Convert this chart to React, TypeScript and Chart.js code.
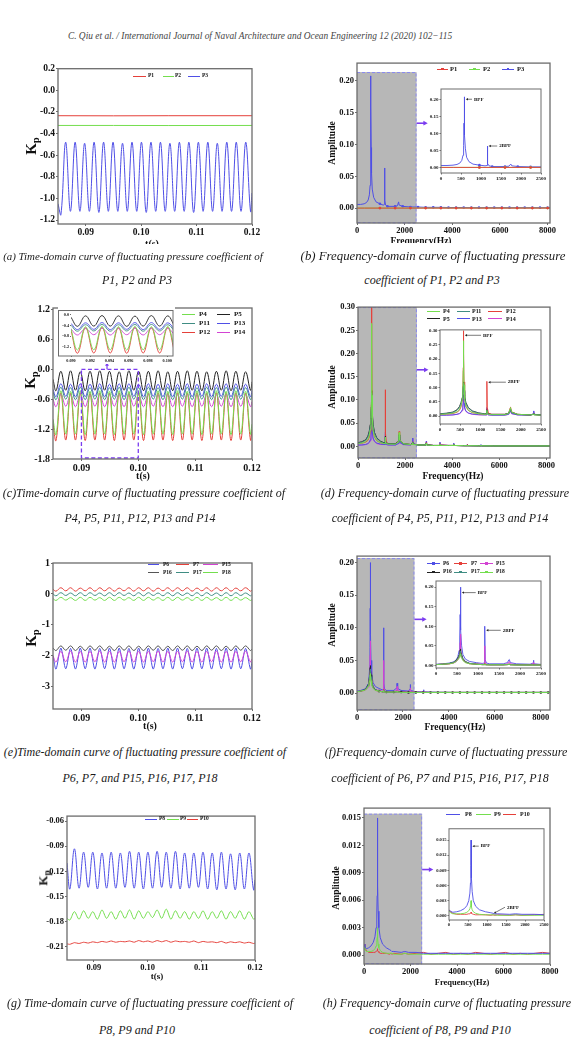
import { useEffect, useRef } from "react";
import { Chart, registerables } from "chart.js";

Chart.register(...registerables);

const SERIF = "'Liberation Serif', 'DejaVu Serif', serif";

// ---------------- time-domain data ----------------
const tGrid = [
  0.085, 0.08553, 0.08638, 0.08724, 0.08809, 0.08895, 0.0898, 0.09066, 0.09151, 0.09237, 0.09322,
  0.09408, 0.09493, 0.09579, 0.09664, 0.0975, 0.09835, 0.09921, 0.10006, 0.10092, 0.10177,
  0.10263, 0.10348, 0.10434, 0.10519, 0.10605, 0.1069, 0.10776, 0.10861, 0.10947, 0.11032,
  0.11118, 0.11203, 0.11289, 0.11374, 0.1146, 0.11545, 0.11631, 0.11716, 0.11802, 0.11887,
  0.11973, 0.12,
];
const tFlat = [0.085, 0.095, 0.105, 0.12];
const tTicks = [0.09, 0.1, 0.11, 0.12];

// (a)
const kpP1 = [-0.235, -0.236, -0.235, -0.235];
const kpP2 = [-0.325, -0.325, -0.326, -0.325];
const kpP3 = [
  -1.05,
  -1.15, -0.48, -1.12, -0.48, -1.12, -0.49, -1.12, -0.48, -1.13, -0.48,
  -1.12, -0.48, -1.12, -0.49, -1.12, -0.48, -1.12, -0.48, -1.13, -0.48,
  -1.12, -0.48, -1.12, -0.49, -1.12, -0.48, -1.12, -0.48, -1.13, -0.48,
  -1.12, -0.48, -1.12, -0.49, -1.12, -0.48, -1.12, -0.48, -1.12, -0.48,
  -1.12, -0.95,
];
const kpTicksA = [0.2, 0.0, -0.2, -0.4, -0.6, -0.8, -1.0, -1.2];

// (c)
const kpP4 = [
  -1.0,
  -1.31, -0.43, -1.3, -0.44, -1.3, -0.43, -1.31, -0.44, -1.3, -0.43,
  -1.3, -0.44, -1.31, -0.43, -1.3, -0.44, -1.3, -0.43, -1.31, -0.44,
  -1.3, -0.43, -1.3, -0.44, -1.31, -0.43, -1.3, -0.44, -1.3, -0.43,
  -1.31, -0.44, -1.3, -0.43, -1.3, -0.44, -1.31, -0.43, -1.3, -0.44,
  -1.3, -1.1,
];
const kpP5 = [
  -0.2,
  -0.43, -0.04, -0.42, -0.03, -0.42, -0.05, -0.43, -0.04, -0.42, -0.03,
  -0.42, -0.04, -0.43, -0.05, -0.42, -0.03, -0.42, -0.04, -0.43, -0.04,
  -0.42, -0.03, -0.42, -0.05, -0.43, -0.04, -0.42, -0.03, -0.42, -0.04,
  -0.43, -0.05, -0.42, -0.04, -0.42, -0.03, -0.43, -0.04, -0.42, -0.05,
  -0.42, -0.25,
];
const kpP11 = [
  -0.45,
  -0.61, -0.36, -0.6, -0.37, -0.61, -0.36, -0.61, -0.37, -0.6, -0.36,
  -0.61, -0.37, -0.6, -0.36, -0.61, -0.36, -0.6, -0.37, -0.61, -0.36,
  -0.6, -0.37, -0.61, -0.36, -0.61, -0.37, -0.6, -0.36, -0.61, -0.37,
  -0.6, -0.36, -0.61, -0.37, -0.6, -0.36, -0.61, -0.36, -0.6, -0.37,
  -0.61, -0.5,
];
const kpP12 = [
  -1.1,
  -1.43, -0.47, -1.42, -0.48, -1.42, -0.47, -1.43, -0.48, -1.42, -0.47,
  -1.42, -0.48, -1.43, -0.47, -1.42, -0.48, -1.42, -0.47, -1.43, -0.48,
  -1.42, -0.47, -1.42, -0.48, -1.43, -0.47, -1.42, -0.48, -1.42, -0.47,
  -1.43, -0.48, -1.42, -0.47, -1.42, -0.48, -1.43, -0.47, -1.42, -0.48,
  -1.42, -1.2,
];
const kpP13 = [
  -0.4,
  -0.55, -0.29, -0.54, -0.3, -0.55, -0.29, -0.55, -0.3, -0.54, -0.29,
  -0.55, -0.3, -0.54, -0.29, -0.55, -0.29, -0.54, -0.3, -0.55, -0.29,
  -0.54, -0.3, -0.55, -0.29, -0.55, -0.3, -0.54, -0.29, -0.55, -0.3,
  -0.54, -0.29, -0.55, -0.3, -0.54, -0.29, -0.55, -0.29, -0.54, -0.3,
  -0.55, -0.42,
];
const kpP14 = [
  -0.6,
  -0.75, -0.5, -0.74, -0.51, -0.75, -0.5, -0.75, -0.51, -0.74, -0.5,
  -0.75, -0.51, -0.74, -0.5, -0.75, -0.5, -0.74, -0.51, -0.75, -0.5,
  -0.74, -0.51, -0.75, -0.5, -0.75, -0.51, -0.74, -0.5, -0.75, -0.51,
  -0.74, -0.5, -0.75, -0.51, -0.74, -0.5, -0.75, -0.5, -0.74, -0.51,
  -0.75, -0.65,
];
const kpTicksC = [1.2, 0.6, 0.0, -0.6, -1.2, -1.8];
const kpTicksCInset = [0.0, -0.4, -0.8, -1.2];
const tTicksInset = [0.09, 0.092, 0.094, 0.096, 0.098, 0.1];

// (e)
const kpP6 = [
  -2.0,
  -2.43, -1.75, -2.42, -1.76, -2.43, -1.75, -2.42, -1.75, -2.43, -1.76,
  -2.42, -1.75, -2.43, -1.75, -2.42, -1.76, -2.43, -1.75, -2.42, -1.75,
  -2.43, -1.76, -2.42, -1.75, -2.43, -1.75, -2.42, -1.76, -2.43, -1.75,
  -2.42, -1.75, -2.43, -1.76, -2.42, -1.75, -2.43, -1.75, -2.42, -1.76,
  -2.43, -2.2,
];
const kpP7 = [
  0.15,
  0.09, 0.2, 0.1, 0.2, 0.09, 0.19, 0.1, 0.2, 0.09, 0.2,
  0.1, 0.2, 0.09, 0.19, 0.1, 0.2, 0.09, 0.2, 0.1, 0.2,
  0.09, 0.19, 0.1, 0.2, 0.09, 0.2, 0.1, 0.2, 0.09, 0.19,
  0.1, 0.2, 0.09, 0.2, 0.1, 0.2, 0.09, 0.19, 0.1, 0.2,
  0.09, 0.12,
];
const kpP15 = [
  -2.0,
  -2.2, -1.86, -2.19, -1.85, -2.2, -1.86, -2.2, -1.86, -2.19, -1.85,
  -2.2, -1.86, -2.2, -1.86, -2.19, -1.85, -2.2, -1.86, -2.2, -1.86,
  -2.19, -1.85, -2.2, -1.86, -2.2, -1.86, -2.19, -1.85, -2.2, -1.86,
  -2.2, -1.86, -2.19, -1.85, -2.2, -1.86, -2.2, -1.86, -2.19, -1.85,
  -2.2, -2.1,
];
const kpP16 = [
  -1.75,
  -1.83, -1.68, -1.82, -1.68, -1.83, -1.69, -1.83, -1.68, -1.82, -1.68,
  -1.83, -1.69, -1.83, -1.68, -1.82, -1.68, -1.83, -1.69, -1.83, -1.68,
  -1.82, -1.68, -1.83, -1.69, -1.83, -1.68, -1.82, -1.68, -1.83, -1.69,
  -1.83, -1.68, -1.82, -1.68, -1.83, -1.69, -1.83, -1.68, -1.82, -1.68,
  -1.83, -1.78,
];
const kpP17 = [
  0.0,
  -0.06, 0.04, -0.05, 0.03, -0.06, 0.04, -0.06, 0.04, -0.05, 0.03,
  -0.06, 0.04, -0.06, 0.04, -0.05, 0.03, -0.06, 0.04, -0.06, 0.04,
  -0.05, 0.03, -0.06, 0.04, -0.06, 0.04, -0.05, 0.03, -0.06, 0.04,
  -0.06, 0.04, -0.05, 0.03, -0.06, 0.04, -0.06, 0.04, -0.05, 0.03,
  -0.06, -0.02,
];
const kpP18 = [
  -0.15,
  -0.21, -0.11, -0.2, -0.12, -0.21, -0.11, -0.21, -0.11, -0.2, -0.12,
  -0.21, -0.11, -0.21, -0.11, -0.2, -0.12, -0.21, -0.11, -0.21, -0.11,
  -0.2, -0.12, -0.21, -0.11, -0.21, -0.11, -0.2, -0.12, -0.21, -0.11,
  -0.21, -0.11, -0.2, -0.12, -0.21, -0.11, -0.21, -0.11, -0.2, -0.12,
  -0.21, -0.18,
];
const kpTicksE = [1, 0, -1, -2, -3];

// (g)
const kpP8 = [
  -0.11,
  -0.141, -0.093, -0.14, -0.097, -0.139, -0.097, -0.141, -0.098, -0.14, -0.097,
  -0.14, -0.098, -0.139, -0.096, -0.14, -0.097, -0.141, -0.097, -0.14, -0.096,
  -0.139, -0.097, -0.14, -0.096, -0.141, -0.098, -0.14, -0.098, -0.139, -0.097,
  -0.141, -0.098, -0.142, -0.097, -0.141, -0.099, -0.142, -0.098, -0.141, -0.098,
  -0.142, -0.13,
];
const kpP9 = [
  -0.176,
  -0.178, -0.168, -0.177, -0.167, -0.176, -0.168, -0.177, -0.166, -0.176, -0.168,
  -0.177, -0.167, -0.176, -0.166, -0.177, -0.167, -0.176, -0.168, -0.175, -0.166,
  -0.176, -0.165, -0.177, -0.167, -0.176, -0.168, -0.177, -0.168, -0.176, -0.167,
  -0.177, -0.168, -0.176, -0.167, -0.177, -0.168, -0.176, -0.167, -0.177, -0.168,
  -0.177, -0.176,
];
const kpP10 = [
  -0.2065,
  -0.207, -0.205, -0.206, -0.2045, -0.2055, -0.204, -0.205, -0.2035, -0.2045, -0.203,
  -0.2045, -0.2035, -0.204, -0.203, -0.2045, -0.2025, -0.204, -0.203, -0.2045, -0.2025,
  -0.204, -0.2025, -0.2045, -0.203, -0.204, -0.2035, -0.2045, -0.203, -0.205, -0.2035,
  -0.2045, -0.204, -0.205, -0.2035, -0.2055, -0.204, -0.205, -0.204, -0.2055, -0.2045,
  -0.206, -0.2055,
];
const kpTicksG = [-0.06, -0.09, -0.12, -0.15, -0.18, -0.21];

// ---------------- frequency-domain data ----------------
const fTicks = [0, 2000, 4000, 6000, 8000];
const fTicksInset = [0, 500, 1000, 1500, 2000, 2500];

// (b)
const fB = [
  0, 150, 300, 400, 470, 520, 550, 565, 575, 580,
  585, 595, 610, 640, 700, 800, 960, 1100, 1150, 1158,
  1162, 1170, 1200, 1280, 1600, 1700, 1735, 1745, 1770, 1920,
  2240, 2560, 2880, 3200, 3520, 3840, 4160, 4480, 4800, 5120,
  5440, 5760, 6080, 6400, 6720, 7040, 7360, 7680, 8000, 8100,
];
const ampBP3 = [
  0.006, 0.006, 0.007, 0.009, 0.013, 0.021, 0.036, 0.065, 0.13, 0.207,
  0.16, 0.095, 0.055, 0.03, 0.017, 0.01, 0.007, 0.005, 0.006, 0.03,
  0.063, 0.012, 0.005, 0.003, 0.003, 0.004, 0.009, 0.01, 0.005, 0.003,
  0.002, 0.002, 0.0015, 0.0015, 0.0015, 0.0012, 0.0012, 0.0012, 0.001, 0.001,
  0.001, 0.001, 0.001, 0.001, 0.001, 0.001, 0.001, 0.001, 0.001, 0.001,
];
const fFlat = [0, 320, 960, 1600, 2240, 2880, 3520, 4160, 4800, 5440, 6080, 6720, 7360, 8000, 8100];
const ampBP1 = [0.0003, 0.0003, 0.0003, 0.0003, 0.0003, 0.0003, 0.0003, 0.0003, 0.0003, 0.0003, 0.0003, 0.0003, 0.0003, 0.0003, 0.0003];
const ampBP2 = [0.0005, 0.0004, 0.0004, 0.0004, 0.0004, 0.0004, 0.0004, 0.0004, 0.0004, 0.0004, 0.0004, 0.0004, 0.0004, 0.0004, 0.0004];
const ampTicksB = [0, 0.05, 0.1, 0.15, 0.2];

// (d)
const fD = [
  0, 160, 320, 420, 480, 520, 550, 565, 575, 580,
  585, 595, 610, 640, 700, 800, 960, 1100, 1150, 1158,
  1162, 1170, 1200, 1280, 1600, 1700, 1735, 1745, 1770, 1920,
  2240, 2310, 2320, 2330, 2560, 2880, 2900, 2910, 3200, 3470,
  3480, 3490, 3840, 4050, 4060, 4070, 4480, 4630, 4640, 4650,
  5120, 5210, 5220, 5230, 5760, 6400, 7040, 7680, 8150,
];
const ampDP12 = [
  0.006, 0.007, 0.009, 0.013, 0.02, 0.032, 0.055, 0.09, 0.17, 0.3,
  0.22, 0.12, 0.065, 0.035, 0.02, 0.012, 0.008, 0.006, 0.007, 0.05,
  0.122, 0.03, 0.01, 0.006, 0.006, 0.01, 0.028, 0.032, 0.015, 0.006,
  0.004, 0.006, 0.01, 0.005, 0.003, 0.003, 0.008, 0.004, 0.002, 0.002,
  0.006, 0.003, 0.002, 0.002, 0.005, 0.002, 0.0015, 0.0015, 0.004, 0.0015,
  0.0012, 0.0012, 0.003, 0.0012, 0.001, 0.001, 0.001, 0.001, 0.001,
];
const ampDP4 = [
  0.006, 0.007, 0.01, 0.015, 0.023, 0.036, 0.06, 0.095, 0.16, 0.265,
  0.2, 0.11, 0.06, 0.034, 0.02, 0.012, 0.008, 0.006, 0.006, 0.012,
  0.02, 0.01, 0.006, 0.005, 0.005, 0.009, 0.026, 0.03, 0.014, 0.006,
  0.004, 0.005, 0.008, 0.004, 0.003, 0.003, 0.007, 0.003, 0.002, 0.002,
  0.005, 0.002, 0.002, 0.002, 0.004, 0.002, 0.0015, 0.0015, 0.003, 0.0015,
  0.0012, 0.0012, 0.0025, 0.0012, 0.001, 0.001, 0.001, 0.001, 0.001,
];
const ampDP5 = [
  0.008, 0.01, 0.014, 0.022, 0.033, 0.047, 0.065, 0.085, 0.105, 0.12,
  0.11, 0.09, 0.07, 0.048, 0.03, 0.018, 0.011, 0.008, 0.008, 0.015,
  0.022, 0.012, 0.007, 0.006, 0.006, 0.01, 0.022, 0.025, 0.013, 0.006,
  0.004, 0.006, 0.009, 0.005, 0.003, 0.003, 0.007, 0.003, 0.002, 0.002,
  0.005, 0.002, 0.002, 0.002, 0.004, 0.002, 0.0015, 0.0015, 0.003, 0.0015,
  0.0012, 0.0012, 0.0025, 0.0012, 0.001, 0.001, 0.001, 0.001, 0.001,
];
const ampDP11 = [
  0.007, 0.009, 0.013, 0.02, 0.03, 0.043, 0.06, 0.08, 0.1, 0.115,
  0.105, 0.085, 0.065, 0.044, 0.028, 0.017, 0.01, 0.007, 0.007, 0.014,
  0.02, 0.011, 0.006, 0.005, 0.005, 0.009, 0.02, 0.024, 0.012, 0.005,
  0.004, 0.006, 0.009, 0.005, 0.003, 0.003, 0.007, 0.003, 0.002, 0.002,
  0.005, 0.002, 0.002, 0.002, 0.004, 0.002, 0.0015, 0.0015, 0.003, 0.0015,
  0.0012, 0.0012, 0.0025, 0.0012, 0.001, 0.001, 0.001, 0.001, 0.001,
];
const ampDP13 = [
  0.003, 0.003, 0.004, 0.006, 0.009, 0.014, 0.022, 0.035, 0.055, 0.075,
  0.065, 0.045, 0.03, 0.018, 0.011, 0.007, 0.005, 0.004, 0.004, 0.015,
  0.03, 0.008, 0.004, 0.003, 0.003, 0.006, 0.018, 0.02, 0.009, 0.004,
  0.003, 0.008, 0.018, 0.006, 0.003, 0.003, 0.011, 0.004, 0.002, 0.002,
  0.009, 0.003, 0.002, 0.002, 0.007, 0.002, 0.0015, 0.0015, 0.005, 0.0015,
  0.0012, 0.0012, 0.004, 0.0012, 0.001, 0.001, 0.001, 0.001, 0.001,
];
const ampDP14 = [
  0.003, 0.003, 0.004, 0.006, 0.008, 0.012, 0.019, 0.03, 0.045, 0.062,
  0.055, 0.04, 0.027, 0.016, 0.01, 0.006, 0.004, 0.004, 0.004, 0.013,
  0.026, 0.007, 0.004, 0.003, 0.003, 0.006, 0.016, 0.018, 0.008, 0.004,
  0.003, 0.008, 0.017, 0.006, 0.003, 0.003, 0.01, 0.004, 0.002, 0.002,
  0.008, 0.003, 0.002, 0.002, 0.006, 0.002, 0.0015, 0.0015, 0.004, 0.0015,
  0.0012, 0.0012, 0.003, 0.0012, 0.001, 0.001, 0.001, 0.001, 0.001,
];
const ampTicksD = [0, 0.05, 0.1, 0.15, 0.2, 0.25, 0.3];

// (f)
const fF = [
  0, 160, 320, 420, 480, 520, 550, 565, 575, 580,
  585, 595, 610, 640, 700, 800, 960, 1100, 1150, 1158,
  1162, 1170, 1200, 1280, 1600, 1700, 1735, 1745, 1770, 1920,
  2240, 2310, 2320, 2330, 2560, 2880, 2900, 2910, 3200, 3520,
  3840, 4160, 4480, 4800, 5120, 5440, 5760, 6080, 6400, 6720,
  7040, 7360, 7680, 8000, 8320, 8400,
];
const ampFP6 = [
  0.003, 0.004, 0.006, 0.009, 0.014, 0.022, 0.038, 0.07, 0.13, 0.2,
  0.15, 0.09, 0.05, 0.028, 0.016, 0.01, 0.007, 0.005, 0.006, 0.05,
  0.1, 0.015, 0.006, 0.004, 0.004, 0.007, 0.014, 0.015, 0.007, 0.004,
  0.003, 0.006, 0.013, 0.004, 0.002, 0.002, 0.005, 0.002, 0.0015, 0.0012,
  0.0012, 0.001, 0.001, 0.001, 0.001, 0.001, 0.001, 0.001, 0.001, 0.001,
  0.001, 0.001, 0.001, 0.001, 0.001, 0.001,
];
const ampFP7 = [
  0.002, 0.003, 0.004, 0.007, 0.011, 0.016, 0.023, 0.029, 0.033, 0.035,
  0.033, 0.028, 0.022, 0.014, 0.008, 0.004, 0.003, 0.002, 0.002, 0.004,
  0.006, 0.002, 0.0015, 0.0015, 0.0015, 0.002, 0.003, 0.003, 0.0015, 0.001,
  0.001, 0.001, 0.001, 0.001, 0.001, 0.001, 0.001, 0.001, 0.001, 0.001,
  0.001, 0.001, 0.001, 0.001, 0.001, 0.001, 0.001, 0.001, 0.001, 0.001,
  0.001, 0.001, 0.001, 0.001, 0.001, 0.001,
];
const ampFP15 = [
  0.002, 0.003, 0.004, 0.006, 0.009, 0.014, 0.022, 0.035, 0.058, 0.08,
  0.065, 0.042, 0.025, 0.014, 0.008, 0.005, 0.004, 0.003, 0.003, 0.025,
  0.05, 0.008, 0.003, 0.002, 0.002, 0.004, 0.009, 0.01, 0.004, 0.002,
  0.002, 0.004, 0.008, 0.003, 0.0015, 0.0015, 0.003, 0.0015, 0.001, 0.001,
  0.001, 0.001, 0.001, 0.001, 0.001, 0.001, 0.001, 0.001, 0.001, 0.001,
  0.001, 0.001, 0.001, 0.001, 0.001, 0.001,
];
const ampFP16 = [
  0.002, 0.003, 0.005, 0.008, 0.013, 0.019, 0.027, 0.034, 0.039, 0.042,
  0.04, 0.035, 0.028, 0.018, 0.01, 0.005, 0.003, 0.002, 0.002, 0.003,
  0.004, 0.002, 0.002, 0.0015, 0.0015, 0.002, 0.003, 0.003, 0.002, 0.0015,
  0.001, 0.0012, 0.0015, 0.001, 0.001, 0.0008, 0.001, 0.0008, 0.0008, 0.0008,
  0.0008, 0.0008, 0.0008, 0.0008, 0.0008, 0.0008, 0.0008, 0.0008, 0.0008, 0.0008,
  0.0008, 0.0008, 0.0008, 0.0008, 0.0008, 0.0008,
];
const ampFP17 = [
  0.002, 0.003, 0.005, 0.008, 0.012, 0.018, 0.025, 0.031, 0.035, 0.037,
  0.035, 0.031, 0.025, 0.016, 0.009, 0.005, 0.003, 0.002, 0.002, 0.003,
  0.004, 0.002, 0.0015, 0.0015, 0.0015, 0.002, 0.003, 0.003, 0.0015, 0.001,
  0.001, 0.001, 0.001, 0.001, 0.001, 0.001, 0.001, 0.001, 0.001, 0.001,
  0.001, 0.001, 0.001, 0.001, 0.001, 0.001, 0.001, 0.001, 0.001, 0.001,
  0.001, 0.001, 0.001, 0.001, 0.001, 0.001,
];
const ampFP18 = [
  0.002, 0.003, 0.004, 0.006, 0.01, 0.014, 0.019, 0.024, 0.028, 0.03,
  0.028, 0.024, 0.019, 0.012, 0.007, 0.004, 0.003, 0.002, 0.002, 0.003,
  0.004, 0.002, 0.0015, 0.0015, 0.0015, 0.002, 0.0025, 0.0025, 0.0015, 0.001,
  0.001, 0.001, 0.001, 0.001, 0.001, 0.001, 0.001, 0.001, 0.001, 0.001,
  0.001, 0.001, 0.001, 0.001, 0.001, 0.001, 0.001, 0.001, 0.001, 0.001,
  0.001, 0.001, 0.001, 0.001, 0.001, 0.001,
];
const ampTicksF = [0, 0.05, 0.1, 0.15, 0.2];

// (h)
const fH = [
  0, 40, 100, 200, 300, 400, 470, 520, 550, 565,
  575, 580, 585, 595, 610, 640, 700, 800, 960, 1100,
  1160, 1200, 1280, 1600, 1750, 1920, 2240, 2560, 2880, 3200,
  3520, 3840, 4160, 4480, 4800, 5120, 5440, 5760, 6080, 6400,
  6720, 7040, 7360, 7680, 8000,
];
const ampHP8 = [
  0.0012, 0.0009, 0.0007, 0.0008, 0.001, 0.0014, 0.002, 0.003, 0.0045, 0.0065,
  0.01, 0.015, 0.012, 0.0075, 0.0048, 0.003, 0.0019, 0.0012, 0.0008, 0.0006,
  0.0005, 0.0004, 0.0004, 0.0003, 0.0004, 0.0003, 0.0003, 0.0002, 0.0002, 0.0002,
  0.0002, 0.0002, 0.0002, 0.0002, 0.0002, 0.0002, 0.0002, 0.0002, 0.0002, 0.0002,
  0.0002, 0.0002, 0.0002, 0.0002, 0.0002,
];
const ampHP9 = [
  0.001, 0.0006, 0.0004, 0.0004, 0.0004, 0.0005, 0.0007, 0.001, 0.0014, 0.0019,
  0.0025, 0.003, 0.0026, 0.0018, 0.0012, 0.0008, 0.0005, 0.0003, 0.0002, 0.0002,
  0.0002, 0.0002, 0.0001, 0.0001, 0.0002, 0.0001, 0.0001, 0.0001, 0.0001, 0.0001,
  0.0001, 0.0001, 0.0001, 0.0001, 0.0001, 0.0001, 0.0001, 0.0001, 0.0001, 0.0001,
  0.0001, 0.0001, 0.0001, 0.0001, 0.0001,
];
const ampHP10 = [
  0.0012, 0.0008, 0.0005, 0.0003, 0.0003, 0.0003, 0.0003, 0.0004, 0.0004, 0.0005,
  0.0006, 0.0007, 0.0006, 0.0005, 0.0004, 0.0003, 0.0002, 0.0002, 0.0002, 0.0001,
  0.0002, 0.0001, 0.0002, 0.0001, 0.0002, 0.0001, 0.0002, 0.0003, 0.0001, 0.0002,
  0.0003, 0.0001, 0.0002, 0.0001, 0.0003, 0.0002, 0.0001, 0.0002, 0.0003, 0.0001,
  0.0002, 0.0001, 0.0002, 0.0003, 0.0002,
];
const ampTicksH = [0, 0.003, 0.006, 0.009, 0.012, 0.015];

// ---------------- styling ----------------
const RED = "#e5403a";
const GREEN = "#74de4e";
const BLUE = "#4f4fe6";
const BLACK = "#222222";
const GRAYBLK = "#555555";
const TEAL = "#3f8d83";
const MAGENTA = "#d343d3";
const PURPLE = "#7b3cf0";
const SHADE = "#b7b7b7";
const SHADE_EDGE = "#8a8af0";

type Series = { xs: number[]; ys: number[]; color: string; w?: number; tension?: number; marker?: boolean };
type Axis = { min: number; max: number; ticks: number[]; dec: number };

function toDatasets(list: Series[], lw: number) {
  return list.map((s) => ({
    data: s.xs.map((x, i) => ({ x, y: s.ys[i] })),
    borderColor: s.color,
    backgroundColor: s.color,
    borderWidth: s.w ?? lw,
    tension: s.tension ?? 0,
    pointRadius: s.marker
      ? (c: any) => (c.raw && c.raw.x >= 900 && c.raw.x % 320 === 0 ? 1.3 : 0)
      : 0,
    pointBorderWidth: 0,
    fill: false,
  }));
}

function drawArrow(ctx: CanvasRenderingContext2D, x1: number, y1: number, x2: number, y2: number, color: string, head: number, lw: number) {
  ctx.save();
  ctx.strokeStyle = color;
  ctx.fillStyle = color;
  ctx.lineWidth = lw;
  ctx.setLineDash([]);
  const ang = Math.atan2(y2 - y1, x2 - x1);
  ctx.beginPath();
  ctx.moveTo(x1, y1);
  ctx.lineTo(x2 - head * 0.6 * Math.cos(ang), y2 - head * 0.6 * Math.sin(ang));
  ctx.stroke();
  ctx.beginPath();
  ctx.moveTo(x2, y2);
  ctx.lineTo(x2 - head * Math.cos(ang - 0.5), y2 - head * Math.sin(ang - 0.5));
  ctx.lineTo(x2 - head * Math.cos(ang + 0.5), y2 - head * Math.sin(ang + 0.5));
  ctx.closePath();
  ctx.fill();
  ctx.restore();
}

function shadePlugin(x0: number, x1: number, yTop: number, arrowY: number, arrowX2: number) {
  return {
    id: "shade",
    beforeDatasetsDraw(c: any) {
      const { ctx, chartArea: a } = c;
      const xs = c.scales.x, ys = c.scales.y;
      const L = xs.getPixelForValue(x0), R = xs.getPixelForValue(x1);
      const T = Math.max(a.top, ys.getPixelForValue(yTop));
      ctx.save();
      ctx.fillStyle = SHADE;
      ctx.fillRect(L, T, R - L, a.bottom - T);
      ctx.strokeStyle = SHADE_EDGE;
      ctx.lineWidth = 1;
      ctx.setLineDash([3, 2]);
      ctx.beginPath();
      ctx.moveTo(L, T + 0.5);
      ctx.lineTo(R - 0.5, T + 0.5);
      ctx.lineTo(R - 0.5, a.bottom);
      ctx.lineTo(L, a.bottom - 0.5);
      ctx.stroke();
      ctx.restore();
    },
    afterDatasetsDraw(c: any) {
      const xs = c.scales.x, ys = c.scales.y;
      const y = ys.getPixelForValue(arrowY);
      drawArrow(c.ctx, xs.getPixelForValue(x1), y, xs.getPixelForValue(arrowX2), y, PURPLE, 5, 1.6);
    },
  };
}

type Note = { text: string; tx: number; ty: number; px: number; py: number };
function notePlugin(notes: Note[], size: number) {
  return {
    id: "notes",
    afterDatasetsDraw(c: any) {
      const { ctx } = c;
      const xs = c.scales.x, ys = c.scales.y;
      notes.forEach((n) => {
        const tx = xs.getPixelForValue(n.tx), ty = ys.getPixelForValue(n.ty);
        const px = xs.getPixelForValue(n.px), py = ys.getPixelForValue(n.py);
        drawArrow(ctx, tx - 1, ty, px, py, "#222", 2.5, 0.6);
        ctx.save();
        ctx.fillStyle = "#111";
        ctx.font = `bold ${size}px ${SERIF}`;
        ctx.textAlign = "left";
        ctx.textBaseline = "middle";
        ctx.fillText(n.text, tx + 1, ty);
        ctx.restore();
      });
    },
  };
}

function zoomBoxPlugin(x0: number, x1: number, yTop: number, arrowX: number, arrowTo: number) {
  return {
    id: "zoombox",
    afterDatasetsDraw(c: any) {
      const { ctx, chartArea: a } = c;
      const xs = c.scales.x, ys = c.scales.y;
      const L = xs.getPixelForValue(x0), R = xs.getPixelForValue(x1), T = ys.getPixelForValue(yTop);
      ctx.save();
      ctx.strokeStyle = PURPLE;
      ctx.lineWidth = 1.3;
      ctx.setLineDash([4, 2.5]);
      ctx.strokeRect(L, T, R - L, a.bottom - T - 1);
      ctx.restore();
      const ax = xs.getPixelForValue(arrowX);
      drawArrow(ctx, ax, T, ax, ys.getPixelForValue(arrowTo), PURPLE, 4, 1.2);
    },
  };
}

type PlotProps = {
  box: { l: number; t: number; r: number; b: number };
  padL: number;
  padB: number;
  padT?: number;
  padR?: number;
  x: Axis;
  y: Axis;
  font: number;
  series: Series[];
  lw?: number;
  extra?: any[];
  bg?: "all" | "area";
  fullFrame?: boolean;
  tickLen?: number;
  z?: number;
  frameW?: number;
};

function Plot(p: PlotProps) {
  const ref = useRef<HTMLCanvasElement | null>(null);
  const padT = p.padT ?? 4;
  const padR = p.padR ?? 12;
  const left = p.box.l - p.padL;
  const top = p.box.t - padT;
  const w = p.box.r - left + padR;
  const h = p.box.b - top + p.padB;
  useEffect(() => {
    const canvas = ref.current;
    if (!canvas) return;
    const font = { family: SERIF, size: p.font, weight: "bold" as const };
    const tl = p.tickLen ?? 2;
    const fc = "#6c6c6c";
    const plugins: any[] = [
      {
        id: "bg",
        beforeDraw(c: any) {
          const { ctx, chartArea: a } = c;
          ctx.save();
          ctx.fillStyle = "#ffffff";
          if (p.bg === "all") ctx.fillRect(0, 0, c.width, c.height);
          else if (p.bg === "area") ctx.fillRect(a.left, a.top, a.right - a.left, a.bottom - a.top);
          ctx.restore();
        },
      },
      ...(p.extra ?? []),
      {
        id: "frame",
        afterDraw(c: any) {
          const { ctx, chartArea: a } = c;
          ctx.save();
          ctx.strokeStyle = fc;
          ctx.lineWidth = p.frameW ?? 1.3;
          const l = p.fullFrame ? 0.5 : a.left;
          ctx.strokeRect(l, a.top, a.right - l, a.bottom - a.top);
          ctx.restore();
        },
      },
    ];
    const axisOpts = (ax: Axis, isX: boolean) => ({
      type: "linear",
      min: ax.min,
      max: ax.max,
      afterBuildTicks: (s: any) => {
        s.ticks = ax.ticks.map((v) => ({ value: v }));
      },
      afterFit: (s: any) => {
        if (isX) s.height = p.padB;
        else s.width = p.padL;
      },
      ticks: {
        autoSkip: false,
        maxRotation: 0,
        padding: 1,
        color: "#111",
        font,
        callback: (v: any) => Number(v).toFixed(ax.dec),
      },
      grid: { drawOnChartArea: false, drawTicks: true, tickLength: tl, color: fc, lineWidth: 1 },
      border: { display: false },
    });
    const chart = new Chart(canvas, {
      type: "line",
      data: { datasets: toDatasets(p.series, p.lw ?? 1) as any },
      options: {
        animation: false,
        responsive: false,
        events: [],
        layout: { padding: { left: 0, right: padR, top: padT, bottom: 0 }, autoPadding: false },
        plugins: { legend: { display: false }, tooltip: { enabled: false }, title: { display: false } },
        scales: { x: axisOpts(p.x, true), y: axisOpts(p.y, false) },
      } as any,
      plugins,
    });
    return () => chart.destroy();
  }, []);
  return (
    <canvas
      ref={ref}
      width={w}
      height={h}
      style={{ position: "absolute", left, top, width: w, height: h, zIndex: p.z ?? 1 }}
    />
  );
}

type LegendEntry = { label: string; color: string; x1: number; x2: number; tx: number; y: number; marker?: boolean };
function Legend({ items, size }: { items: LegendEntry[]; size: number }) {
  return (
    <>
      {items.map((it) => (
        <div key={it.label}>
          <div
            style={{
              position: "absolute",
              left: it.x1,
              top: it.y - 0.5,
              width: it.x2 - it.x1,
              height: 0,
              borderTop: `1px solid ${it.color}`,
              zIndex: 5,
            }}
          />
          {it.marker ? (
            <div
              style={{
                position: "absolute",
                left: (it.x1 + it.x2) / 2 - 1.2,
                top: it.y - 1.2,
                width: 2.4,
                height: 2.4,
                background: it.color,
                zIndex: 5,
              }}
            />
          ) : null}
          <div
            style={{
              position: "absolute",
              left: it.tx,
              top: it.y,
              transform: "translateY(-50%)",
              font: `bold ${size}px ${SERIF}`,
              lineHeight: 1,
              whiteSpace: "nowrap",
              color: "#111",
              zIndex: 5,
            }}
          >
            {it.label}
          </div>
        </div>
      ))}
    </>
  );
}

function Label({ x, y, text, size, rotate, italic, bold = true, color = "#111" }: any) {
  return (
    <div
      style={{
        position: "absolute",
        left: x,
        top: y,
        transform: `translate(-50%, -50%)${rotate ? " rotate(-90deg)" : ""}`,
        font: `${italic ? "italic " : ""}${bold ? "bold " : ""}${size}px ${SERIF}`,
        lineHeight: 1,
        whiteSpace: "nowrap",
        color,
        zIndex: 5,
      }}
    >
      {text}
    </div>
  );
}

function Kp({ x, y, size }: { x: number; y: number; size: number }) {
  return (
    <div
      style={{
        position: "absolute",
        left: x,
        top: y,
        transform: "translate(-50%, -50%) rotate(-90deg)",
        font: `bold ${size}px ${SERIF}`,
        lineHeight: 1,
        whiteSpace: "nowrap",
        color: "#111",
        zIndex: 5,
      }}
    >
      K<span style={{ fontSize: "0.72em", position: "relative", top: "0.3em" }}>p</span>
    </div>
  );
}

function Clipped({ x, y, text, size, h }: { x: number; y: number; text: string; size: number; h: number }) {
  return (
    <div style={{ position: "absolute", left: x - 50, top: y, width: 100, height: h, overflow: "hidden", zIndex: 5 }}>
      <div style={{ font: `bold ${size}px ${SERIF}`, lineHeight: 1, textAlign: "center", width: 100, color: "#111" }}>
        {text}
      </div>
    </div>
  );
}

function Caption({ x, y, text, size = 12 }: { x: number; y: number; text: string; size?: number }) {
  return <Label x={x} y={y} text={text} size={size} italic bold={false} color="#1a1a1a" />;
}

const insetX: Axis = { min: 0, max: 2500, ticks: fTicksInset, dec: 0 };

export default function App() {
  return (
    <div style={{ position: "absolute", left: 0, top: 0, width: 574, height: 1045, background: "#fff", overflow: "hidden" }}>
      <Label x={260} y={37} size={9.4} italic bold={false} color="#444" text="C. Qiu et al. / International Journal of Naval Architecture and Ocean Engineering 12 (2020) 102−115" />

      {/* (a) */}
      <Plot
        box={{ l: 58, t: 68, r: 252, b: 224 }}
        padL={58}
        padB={16}
        padT={6}
        padR={14}
        x={{ min: 0.085, max: 0.12, ticks: tTicks, dec: 2 }}
        y={{ min: -1.237, max: 0.2, ticks: kpTicksA, dec: 1 }}
        font={9.5}
        series={[
          { xs: tFlat, ys: kpP1, color: RED },
          { xs: tFlat, ys: kpP2, color: GREEN },
          { xs: tGrid, ys: kpP3, color: BLUE, tension: 0.4 },
        ]}
      />
      <Legend
        size={5.5}
        items={[
          { label: "P1", color: RED, x1: 133, x2: 146, tx: 148, y: 76 },
          { label: "P2", color: GREEN, x1: 163, x2: 174, tx: 175, y: 76 },
          { label: "P3", color: BLUE, x1: 188, x2: 200, tx: 202, y: 76 },
        ]}
      />
      <Kp x={31} y={146} size={15} />
      <Clipped x={152} y={239} text="t(s)" size={10} h={5} />

      {/* (b) */}
      <Plot
        box={{ l: 357, t: 61, r: 550, b: 223 }}
        padL={40}
        padB={14}
        padR={16}
        x={{ min: 0, max: 8100, ticks: fTicks, dec: 0 }}
        y={{ min: -0.023, max: 0.227, ticks: ampTicksB, dec: 2 }}
        font={8.5}
        series={[
          { xs: fFlat, ys: ampBP1, color: RED, marker: true },
          { xs: fFlat, ys: ampBP2, color: GREEN, marker: true },
          { xs: fB, ys: ampBP3, color: BLUE, marker: true },
        ]}
        extra={[shadePlugin(0, 2500, 0.213, 0.133, 2970)]}
      />
      <Plot
        box={{ l: 441, t: 87, r: 541, b: 173 }}
        padL={16}
        padB={11}
        padT={2}
        padR={6}
        x={insetX}
        y={{ min: -0.016, max: 0.23, ticks: ampTicksB, dec: 2 }}
        font={5}
        lw={0.9}
        bg="area"
        z={2}
        frameW={1}
        tickLen={1.5}
        series={[
          { xs: fFlat, ys: ampBP1, color: RED, marker: true },
          { xs: fFlat, ys: ampBP2, color: GREEN, marker: true },
          { xs: fB, ys: ampBP3, color: BLUE, marker: true },
        ]}
        extra={[
          notePlugin(
            [
              { text: "BPF", tx: 800, ty: 0.2, px: 620, py: 0.2 },
              { text: "2BPF", tx: 1430, ty: 0.063, px: 1190, py: 0.063 },
            ],
            5
          ),
        ]}
      />
      <Legend
        size={6.5}
        items={[
          { label: "P1", color: RED, x1: 437, x2: 448, tx: 450, y: 69, marker: true },
          { label: "P2", color: GREEN, x1: 469, x2: 480, tx: 483, y: 69, marker: true },
          { label: "P3", color: BLUE, x1: 502, x2: 514, tx: 517, y: 69, marker: true },
        ]}
      />
      <Label x={333} y={143} text="Amplitude" size={9.5} rotate />
      <Clipped x={421} y={237} text="Frequency(Hz)" size={9.5} h={6} />

      <Caption x={133} y={256} size={10.9} text="(a) Time-domain curve of fluctuating pressure coefficient of" />
      <Caption x={137} y={280} text="P1, P2 and P3" />
      <Caption x={433} y={256} size={12.8} text="(b) Frequency-domain curve of fluctuating pressure" />
      <Caption x={432} y={280} text="coefficient of P1, P2 and P3" />

      {/* (c) */}
      <Plot
        box={{ l: 53, t: 305, r: 252, b: 459 }}
        padL={40}
        padB={16}
        padR={14}
        x={{ min: 0.085, max: 0.12, ticks: tTicks, dec: 2 }}
        y={{ min: -1.8, max: 1.23, ticks: kpTicksC, dec: 1 }}
        font={10}
        series={[
          { xs: tGrid, ys: kpP4, color: GREEN, tension: 0.4 },
          { xs: tGrid, ys: kpP5, color: BLACK, tension: 0.4 },
          { xs: tGrid, ys: kpP11, color: TEAL, tension: 0.4 },
          { xs: tGrid, ys: kpP13, color: BLUE, tension: 0.4 },
          { xs: tGrid, ys: kpP14, color: MAGENTA, tension: 0.4 },
          { xs: tGrid, ys: kpP12, color: RED, tension: 0.4 },
        ]}
        extra={[zoomBoxPlugin(0.09, 0.1, 0.0, 0.0945, 0.14)]}
      />
      <Plot
        box={{ l: 71, t: 309, r: 173, b: 356 }}
        padL={13}
        padB={8}
        padT={2}
        padR={2}
        x={{ min: 0.09, max: 0.1006, ticks: tTicksInset, dec: 3 }}
        y={{ min: -1.53, max: 0.158, ticks: kpTicksCInset, dec: 1 }}
        font={4.2}
        lw={0.9}
        bg="all"
        fullFrame
        frameW={1}
        tickLen={1}
        z={2}
        series={[
          { xs: tGrid, ys: kpP4, color: GREEN, tension: 0.4 },
          { xs: tGrid, ys: kpP5, color: BLACK, tension: 0.4 },
          { xs: tGrid, ys: kpP11, color: TEAL, tension: 0.4 },
          { xs: tGrid, ys: kpP13, color: BLUE, tension: 0.4 },
          { xs: tGrid, ys: kpP14, color: MAGENTA, tension: 0.4 },
          { xs: tGrid, ys: kpP12, color: RED, tension: 0.4 },
        ]}
      />
      <Legend
        size={7}
        items={[
          { label: "P4", color: GREEN, x1: 182, x2: 195, tx: 199, y: 314 },
          { label: "P5", color: BLACK, x1: 217, x2: 230, tx: 234, y: 314 },
          { label: "P11", color: TEAL, x1: 182, x2: 195, tx: 199, y: 323 },
          { label: "P13", color: BLUE, x1: 217, x2: 230, tx: 234, y: 323 },
          { label: "P12", color: RED, x1: 182, x2: 195, tx: 199, y: 332 },
          { label: "P14", color: MAGENTA, x1: 217, x2: 230, tx: 234, y: 332 },
        ]}
      />
      <Kp x={30} y={380} size={15} />
      <Label x={143} y={476} text="t(s)" size={10} />

      {/* (d) */}
      <Plot
        box={{ l: 358, t: 305, r: 550, b: 458 }}
        padL={40}
        padB={14}
        padR={16}
        x={{ min: 0, max: 8150, ticks: fTicks, dec: 0 }}
        y={{ min: -0.025, max: 0.3, ticks: ampTicksD, dec: 2 }}
        font={8.5}
        series={[
          { xs: fD, ys: ampDP4, color: GREEN },
          { xs: fD, ys: ampDP11, color: TEAL },
          { xs: fD, ys: ampDP5, color: BLACK },
          { xs: fD, ys: ampDP12, color: RED },
          { xs: fD, ys: ampDP13, color: BLUE },
          { xs: fD, ys: ampDP14, color: MAGENTA },
        ]}
        extra={[shadePlugin(0, 2500, 0.3, 0.165, 2990)]}
      />
      <Plot
        box={{ l: 440, t: 328, r: 541, b: 424 }}
        padL={16}
        padB={10}
        padT={2}
        padR={6}
        x={insetX}
        y={{ min: -0.028, max: 0.303, ticks: ampTicksD, dec: 2 }}
        font={4.8}
        lw={0.9}
        bg="area"
        z={2}
        frameW={1}
        tickLen={1.5}
        series={[
          { xs: fD, ys: ampDP4, color: GREEN },
          { xs: fD, ys: ampDP11, color: TEAL },
          { xs: fD, ys: ampDP5, color: BLACK },
          { xs: fD, ys: ampDP12, color: RED },
          { xs: fD, ys: ampDP13, color: BLUE },
          { xs: fD, ys: ampDP14, color: MAGENTA },
        ]}
        extra={[
          notePlugin(
            [
              { text: "BPF", tx: 1040, ty: 0.284, px: 615, py: 0.284 },
              { text: "2BPF", tx: 1655, ty: 0.119, px: 1195, py: 0.119 },
            ],
            5
          ),
        ]}
      />
      <Legend
        size={6}
        items={[
          { label: "P4", color: GREEN, x1: 427, x2: 440, tx: 443, y: 311 },
          { label: "P11", color: TEAL, x1: 457, x2: 470, tx: 472, y: 311 },
          { label: "P12", color: RED, x1: 488, x2: 502, tx: 506, y: 311 },
          { label: "P5", color: BLACK, x1: 427, x2: 440, tx: 443, y: 318.5 },
          { label: "P13", color: BLUE, x1: 457, x2: 470, tx: 472, y: 318.5 },
          { label: "P14", color: MAGENTA, x1: 488, x2: 502, tx: 506, y: 318.5 },
        ]}
      />
      <Label x={333} y={387} text="Amplitude" size={9.5} rotate />
      <Label x={453} y={477} text="Frequency(Hz)" size={9.5} />

      <Caption x={144} y={493} text="(c)Time-domain curve of fluctuating pressure coefficient of" />
      <Caption x={140} y={518} text="P4, P5, P11, P12, P13 and P14" />
      <Caption x={445} y={493} text="(d) Frequency-domain curve of fluctuating pressure" />
      <Caption x={440} y={518} text="coefficient of P4, P5, P11, P12, P13 and P14" />

      {/* (e) */}
      <Plot
        box={{ l: 53, t: 560, r: 252, b: 709 }}
        padL={40}
        padB={16}
        padR={14}
        x={{ min: 0.085, max: 0.12, ticks: tTicks, dec: 2 }}
        y={{ min: -3.72, max: 1.0, ticks: kpTicksE, dec: 0 }}
        font={10}
        series={[
          { xs: tGrid, ys: kpP16, color: GRAYBLK, tension: 0.4 },
          { xs: tGrid, ys: kpP15, color: MAGENTA, tension: 0.4 },
          { xs: tGrid, ys: kpP6, color: BLUE, tension: 0.3 },
          { xs: tGrid, ys: kpP7, color: RED, tension: 0.4 },
          { xs: tGrid, ys: kpP17, color: TEAL, tension: 0.4 },
          { xs: tGrid, ys: kpP18, color: GREEN, tension: 0.4 },
        ]}
      />
      <Legend
        size={5.5}
        items={[
          { label: "P6", color: BLUE, x1: 148, x2: 159, tx: 163, y: 564.5 },
          { label: "P7", color: RED, x1: 176, x2: 189, tx: 193, y: 564.5 },
          { label: "P15", color: MAGENTA, x1: 203, x2: 218, tx: 222, y: 564.5 },
          { label: "P16", color: GRAYBLK, x1: 148, x2: 159, tx: 163, y: 572.5 },
          { label: "P17", color: TEAL, x1: 176, x2: 189, tx: 193, y: 572.5 },
          { label: "P18", color: GREEN, x1: 203, x2: 218, tx: 222, y: 572.5 },
        ]}
      />
      <Kp x={31} y={638} size={15} />
      <Label x={150} y={726} text="t(s)" size={10} />

      {/* (f) */}
      <Plot
        box={{ l: 357, t: 554, r: 550, b: 710 }}
        padL={40}
        padB={14}
        padR={16}
        x={{ min: 0, max: 8400, ticks: fTicks, dec: 0 }}
        y={{ min: -0.026, max: 0.21, ticks: ampTicksF, dec: 2 }}
        font={8.5}
        series={[
          { xs: fF, ys: ampFP18, color: GREEN },
          { xs: fF, ys: ampFP17, color: TEAL },
          { xs: fF, ys: ampFP7, color: RED },
          { xs: fF, ys: ampFP16, color: BLACK, marker: true },
          { xs: fF, ys: ampFP15, color: MAGENTA },
          { xs: fF, ys: ampFP6, color: BLUE },
        ]}
        extra={[shadePlugin(0, 2500, 0.207, 0.113, 3030)]}
      />
      <Plot
        box={{ l: 436, t: 579, r: 541, b: 668 }}
        padL={16}
        padB={11}
        padT={2}
        padR={6}
        x={insetX}
        y={{ min: -0.0067, max: 0.2157, ticks: ampTicksF, dec: 2 }}
        font={5}
        lw={0.9}
        bg="area"
        z={2}
        frameW={1}
        tickLen={1.5}
        series={[
          { xs: fF, ys: ampFP18, color: GREEN },
          { xs: fF, ys: ampFP17, color: TEAL },
          { xs: fF, ys: ampFP7, color: RED },
          { xs: fF, ys: ampFP16, color: BLACK },
          { xs: fF, ys: ampFP15, color: MAGENTA },
          { xs: fF, ys: ampFP6, color: BLUE },
        ]}
        extra={[
          notePlugin(
            [
              { text: "BPF", tx: 970, ty: 0.186, px: 615, py: 0.186 },
              { text: "2BPF", tx: 1565, ty: 0.0897, px: 1195, py: 0.0897 },
            ],
            5
          ),
        ]}
      />
      <Legend
        size={5.5}
        items={[
          { label: "P6", color: BLUE, x1: 427, x2: 440, tx: 443, y: 563.5, marker: true },
          { label: "P7", color: RED, x1: 454, x2: 467, tx: 471, y: 563.5, marker: true },
          { label: "P15", color: MAGENTA, x1: 480, x2: 493, tx: 496, y: 563.5, marker: true },
          { label: "P16", color: BLACK, x1: 427, x2: 440, tx: 443, y: 572, marker: true },
          { label: "P17", color: TEAL, x1: 454, x2: 467, tx: 471, y: 572, marker: true },
          { label: "P18", color: GREEN, x1: 480, x2: 493, tx: 496, y: 572, marker: true },
        ]}
      />
      <Label x={333} y={625} text="Amplitude" size={9.5} rotate />
      <Label x={455} y={728} text="Frequency(Hz)" size={9.5} />

      <Caption x={145} y={752} text="(e)Time-domain curve of fluctuating pressure coefficient of" />
      <Caption x={140} y={778} text="P6, P7, and P15, P16, P17, P18" />
      <Caption x={446} y={752} text="(f)Frequency-domain curve of fluctuating pressure" />
      <Caption x={440} y={778} text="coefficient of P6, P7 and P15, P16, P17, P18" />

      {/* (g) */}
      <Plot
        box={{ l: 67, t: 814, r: 255, b: 960 }}
        padL={40}
        padB={14}
        padR={14}
        x={{ min: 0.085, max: 0.12, ticks: tTicks, dec: 2 }}
        y={{ min: -0.2257, max: -0.054, ticks: kpTicksG, dec: 2 }}
        font={8.5}
        series={[
          { xs: tGrid, ys: kpP8, color: BLUE, tension: 0.4 },
          { xs: tGrid, ys: kpP9, color: GREEN, tension: 0.3 },
          { xs: tGrid, ys: kpP10, color: RED, tension: 0.1 },
        ]}
      />
      <Legend
        size={5.5}
        items={[
          { label: "P8", color: BLUE, x1: 145, x2: 157, tx: 159, y: 819 },
          { label: "P9", color: GREEN, x1: 167, x2: 179, tx: 180, y: 819 },
          { label: "P10", color: RED, x1: 187, x2: 198, tx: 200, y: 819 },
        ]}
      />
      <Kp x={43} y={878} size={13} />
      <Label x={157} y={976} text="t(s)" size={9} />

      {/* (h) */}
      <Plot
        box={{ l: 364, t: 806, r: 550, b: 964 }}
        padL={44}
        padB={14}
        padR={16}
        x={{ min: 0, max: 8000, ticks: fTicks, dec: 0 }}
        y={{ min: -0.00097, max: 0.01608, ticks: ampTicksH, dec: 3 }}
        font={8.5}
        series={[
          { xs: fH, ys: ampHP8, color: BLUE },
          { xs: fH, ys: ampHP9, color: GREEN },
          { xs: fH, ys: ampHP10, color: RED },
        ]}
        extra={[shadePlugin(0, 2500, 0.01547, 0.00936, 2980)]}
      />
      <Plot
        box={{ l: 449, t: 827, r: 544, b: 920 }}
        padL={16}
        padB={11}
        padT={2}
        padR={6}
        x={insetX}
        y={{ min: -0.00083, max: 0.01725, ticks: ampTicksH, dec: 3 }}
        font={4.6}
        lw={0.9}
        bg="area"
        z={2}
        frameW={1}
        tickLen={1.5}
        series={[
          { xs: fH, ys: ampHP8, color: BLUE },
          { xs: fH, ys: ampHP9, color: GREEN },
          { xs: fH, ys: ampHP10, color: RED },
        ]}
        extra={[
          notePlugin(
            [
              { text: "BPF", tx: 810, ty: 0.0138, px: 615, py: 0.0138 },
              { text: "2BPF", tx: 1500, ty: 0.0017, px: 1180, py: 0.0005 },
            ],
            5
          ),
        ]}
      />
      <Legend
        size={6}
        items={[
          { label: "P8", color: BLUE, x1: 446, x2: 460, tx: 465, y: 814 },
          { label: "P9", color: GREEN, x1: 476, x2: 491, tx: 494, y: 814 },
          { label: "P10", color: RED, x1: 503, x2: 516, tx: 520, y: 814 },
        ]}
      />
      <Label x={337} y={888} text="Amplitude" size={9.5} rotate />
      <Label x={462} y={982} text="Frequency(Hz)" size={8.5} />

      <Caption x={150} y={1003} text="(g) Time-domain curve of fluctuating pressure coefficient of" />
      <Caption x={137} y={1030} text="P8, P9 and P10" />
      <Caption x={447} y={1003} text="(h) Frequency-domain curve of fluctuating pressure" />
      <Caption x={440} y={1030} text="coefficient of P8, P9 and P10" />
    </div>
  );
}
